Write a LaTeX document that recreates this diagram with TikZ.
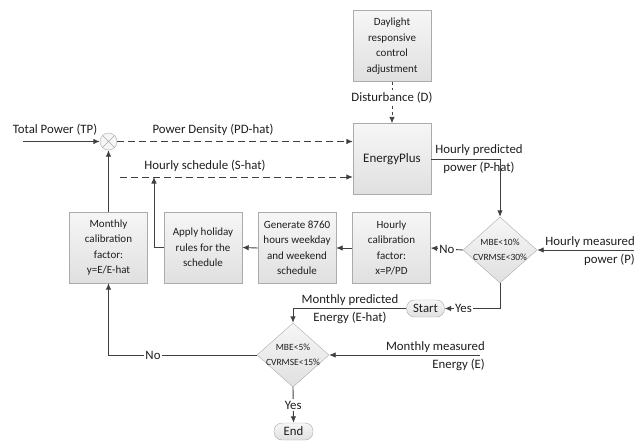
\documentclass[tikz,border=0pt]{standalone}
\usepackage{fontspec}
\setmainfont{Carlito}
\usetikzlibrary{shapes.geometric,arrows.meta}
\definecolor{ln}{HTML}{404040}
\definecolor{tx}{HTML}{1E1E1E}
\definecolor{bd}{HTML}{ABABAB}
\definecolor{btop}{HTML}{F6F6F6}
\definecolor{bbot}{HTML}{E0E0E0}
\tikzset{
  box/.style={draw=bd, top color=btop, bottom color=bbot, minimum width=78pt, minimum height=71pt,
    inner sep=1pt, align=center, text=tx, font={\fontsize{11}{15.5}\selectfont}},
  lbl/.style={text=tx, font={\fontsize{12.8}{18}\selectfont}, inner sep=1pt},
  arr/.style={draw=ln, line width=0.9pt, -{Latex[length=6.5pt,width=5.5pt]}},
  darr/.style={arr, dash pattern=on 7pt off 4pt},
  dia/.style={diamond, draw=bd, top color=btop, bottom color=bbot, minimum width=74pt, minimum height=66pt, inner sep=0pt},
  diatext/.style={text=tx, align=center, font={\fontsize{9.5}{15}\selectfont}, inner sep=0pt},
  term/.style={rounded corners=8pt, draw=bd, top color=btop, bottom color=bbot, minimum width=38pt,
    minimum height=17pt, inner sep=0pt, text=tx, font={\fontsize{12.8}{15}\selectfont}},
  onl/.style={fill=white, inner sep=1.5pt, text=tx, font={\fontsize{12.8}{15}\selectfont}}
}
\begin{document}
\begin{tikzpicture}[x=1pt,y=-1pt]
\useasboundingbox (0,0) rectangle (636,441);
% boxes
\node[box] (day) at (392,46) {Daylight\\responsive\\control\\adjustment};
\node[box, font={\fontsize{13}{15.5}\selectfont}] (ep) at (392,159) {EnergyPlus};
\node[box] (mc) at (108.5,247.5) {Monthly\\calibration\\factor:\\y=E/E-hat};
\node[box] (ap) at (203,247.5) {Apply holiday\\rules for the\\schedule};
\node[box] (gen) at (297,248) {Generate 8760\\hours weekday\\and weekend\\schedule};
\node[box] (hc) at (391.5,248) {Hourly\\calibration\\factor:\\x=P/PD};
% summing junction
\node[circle, draw=bd, fill=btop, minimum size=17pt, inner sep=0pt] (sum) at (108.5,141.5) {};
\draw[draw=bd, line width=0.6pt] (sum.north east) -- (sum.south west) (sum.north west) -- (sum.south east);
% diamonds
\node[dia] (d1) at (500,250) {};
\node[diatext] (d1t) at (d1.center) {MBE<10\%\\CVRMSE<30\%};
\node[dia, minimum width=72pt, minimum height=64pt] (d2) at (293,355) {};
\node[diatext] (d2t) at (d2.center) {MBE<5\%\\CVRMSE<15\%};
% terminals
\node[term] (start) at (425.5,308.5) {Start};
\node[term, minimum width=39pt] (end) at (293.5,431.5) {End};
% labels
\node[lbl] (tpl) at (55,130) {Total Power (TP)};
\node[lbl] (pdl) at (213,130) {Power Density (PD-hat)};
\node[lbl] (shl) at (205,166) {Hourly schedule (S-hat)};
\node[lbl, align=center] (hpl) at (479,159.5) {Hourly predicted\\power (P-hat)};
\node[lbl, align=right, anchor=east] (hml) at (636,251.5) {Hourly measured\\power (P)};
\node[lbl, align=center] (mpl) at (350,309) {Monthly predicted\\Energy (E-hat)};
\node[lbl, align=right, anchor=east] (mml) at (486,356.5) {Monthly measured\\Energy (E)};
% coordinates
\coordinate (tpin) at (23,141.5);
\coordinate (sst) at (120,177);
\coordinate (sj) at (154,177);
\coordinate (hm) at (634,250);
\coordinate (mm) at (480,355);
% connectors
\draw[arr] (tpin) -- (sum.west);
\draw[darr] (sum.east) -- (sum -| ep.west);
\draw[darr] (sst) -- (sst -| ep.west);
\draw[arr] (ap.west) -| (sj);
\draw[arr] (mc.north) -- (sum.south);
\draw[arr] (gen.west) -- (ap.east);
\draw[arr] (hc.west) -- (gen.east);
\draw[arr] (d1.west) -- node[onl] (no1) {No} (hc.east);
\draw[arr] (ep.east) -| (d1.north);
\draw[arr] (hm) -- (d1.east);
\draw[arr] (d1.south) |- node[onl, pos=0.83] (yes1) {Yes} (start.east);
\draw[arr] (start.west) -| (d2.north);
\draw[arr] (mm) -- (d2.east);
\draw[arr] (d2.west) -| node[onl, pos=0.35] (no2) {No} (mc.south);
\draw[arr] (d2.south) -- node[onl] (yes2) {Yes} (end.north);
\draw[darr, dash pattern=on 3pt off 3pt] (day.south) -- node[onl, pos=0.38] (dist) {Disturbance (D)} (ep.north);
\end{tikzpicture}
\end{document}
